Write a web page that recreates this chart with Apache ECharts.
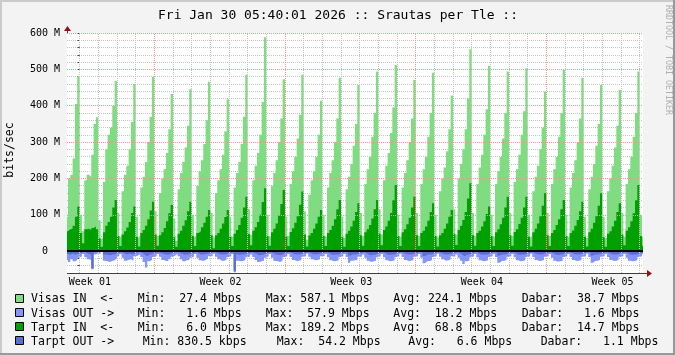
<!DOCTYPE html>
<html><head><meta charset="utf-8">
<script src="https://cdn.jsdelivr.net/npm/echarts@6/dist/echarts.min.js"></script>
<style>html,body{margin:0;padding:0;background:#F3F3F3}#c{width:675px;height:355px}</style>
</head><body><div id="c"></div>
<script>
const titleText = 'Fri Jan 30 05:40:01 2026 :: Srautas per Tle ::';
const yAxisTitle = 'bits/sec';
const watermark = 'RRDTOOL / TOBI OETIKER';
const weekLabels = ['Week 01', 'Week 02', 'Week 03', 'Week 04', 'Week 05'];
const weekLabelPos = [0.55, 7.55, 14.55, 21.55, 28.55];          // days
const dayLines = [0,1,2,3,4,5,6,7,8,9,10,11,12,13,14,15,16,17,18,19,20,21,22,23,24,25,26,27,28,29,30];
const majorDays = [4, 11, 18, 25];
const yMajor = [0, 100, 200, 300, 400, 500, 600];
const xMin = -0.675, xMax = 30.18;
const yMin = -60, yMax = 600;
const sampleStart = -0.75;       // first sample starts 06:00 of day 0
const samplesPerDay = 8;         // 3-hour samples, values in Mbit/s

// Visas IN (light green), one row per day: 00-03,03-06,...,21-24
const visasIn = [
  95,200,210,255,405,482,
  100,55,195,210,205,265,350,368,
  85,35,190,280,320,340,400,468,
  105,40,165,210,235,280,355,460,
  95,38,175,205,245,300,370,480,
  110,42,160,200,225,270,335,432,
  90,28,170,215,245,285,345,445,
  100,40,180,220,250,295,360,466,
  105,38,160,195,225,265,330,418,
  95,40,175,215,245,295,370,485,
  115,45,195,235,270,320,410,588,
  100,40,180,215,250,300,365,473,
  95,42,185,220,260,310,375,485,
  110,32,155,195,220,260,320,414,
  100,40,175,215,250,300,365,477,
  95,36,170,205,240,290,350,457,
  105,42,185,225,260,315,380,494,
  115,46,195,235,270,325,395,512,
  100,40,175,215,250,300,365,471,
  105,42,185,225,260,315,380,491,
  100,38,165,200,230,275,335,428,
  115,46,200,240,280,335,420,555,
  105,42,185,230,265,320,390,509,
  100,40,185,220,260,310,380,494,
  105,42,190,225,265,320,385,503,
  100,38,165,205,235,280,340,439,
  105,42,185,225,260,315,380,498,
  100,40,175,215,250,300,365,477,
  95,36,170,205,240,290,350,457,
  95,36,165,200,235,285,345,443,
  105,40,185,225,260,315,380,494,
  100,40
];
// Tarpt IN (dark green)
const tarptIn = [
  55,60,62,70,95,123,
  50,22,60,62,58,64,68,60,
  35,12,52,70,80,95,120,141,
  42,14,46,55,65,80,105,123,
  40,13,50,58,70,88,112,136,
  46,15,44,52,64,82,104,127,
  38,12,48,56,70,85,110,136,
  42,14,50,55,66,78,95,113,
  44,8,44,50,62,76,94,113,
  39,14,48,58,72,92,120,150,
  47,16,56,66,80,100,135,173,
  42,15,52,62,76,98,130,168,
  40,14,53,63,78,96,128,164,
  46,13,43,50,62,76,95,113,
  42,14,50,58,70,88,115,141,
  38,12,48,56,68,84,108,132,
  44,15,52,60,72,90,115,141,
  48,16,58,68,84,105,140,182,
  42,14,52,60,74,92,120,150,
  44,14,50,56,68,84,108,132,
  42,13,44,50,62,76,95,113,
  48,17,58,70,86,108,145,187,
  44,15,50,56,68,82,102,123,
  42,14,52,60,74,92,120,150,
  44,15,53,60,75,92,120,150,
  40,13,52,62,76,96,125,159,
  44,14,50,58,72,88,115,141,
  42,14,50,57,70,86,110,136,
  40,13,52,62,78,96,125,159,
  38,12,48,55,68,84,108,132,
  46,16,56,66,82,104,140,182,
  42,14
];
// Visas OUT (light blue, drawn below zero)
const visasOut = [
  24,30,22,28,24,18,
  14,8,16,22,24,50,9,6,
  8,2,26,28,30,27,25,20,
  14,8,18,26,24,22,26,14,
  12,8,16,30,45,28,24,16,
  14,8,15,24,26,28,22,15,
  12,7,14,22,28,25,24,18,
  15,8,18,25,27,24,20,14,
  14,7,15,22,26,26,23,16,
  14,8,58,26,28,27,24,17,
  15,9,16,24,30,28,26,18,
  14,8,18,26,28,30,25,16,
  14,8,16,24,27,26,24,15,
  14,7,15,22,25,24,22,14,
  14,8,17,25,28,27,25,16,
  14,8,16,32,26,25,24,15,
  15,9,18,26,30,28,26,17,
  14,8,17,25,28,27,25,16,
  14,7,16,24,27,26,24,15,
  14,8,18,33,28,27,25,16,
  14,7,15,22,26,25,23,14,
  15,9,18,26,35,28,26,17,
  14,8,17,25,28,27,25,16,
  14,8,16,32,27,26,24,15,
  14,8,17,25,28,27,25,16,
  14,7,16,24,27,26,24,15,
  14,8,18,26,29,28,26,16,
  14,8,16,24,27,26,24,15,
  14,7,16,32,27,26,24,15,
  14,8,16,24,27,26,24,15,
  14,8,18,26,28,27,25,16,
  14,8
];
// Tarpt OUT (dark blue, drawn below zero)
const tarptOut = [
  8,10,7,9,8,6,
  4,2,5,8,9,47,3,2,
  2,1,9,10,11,10,9,6,
  4,2,6,9,8,8,9,5,
  3,2,5,10,14,9,8,5,
  4,2,5,8,9,10,7,5,
  3,2,5,8,10,9,8,6,
  5,2,6,9,9,8,7,5,
  4,2,5,8,9,9,8,5,
  4,2,54,9,10,9,8,6,
  5,2,6,8,11,10,9,6,
  4,2,6,9,10,11,9,5,
  4,2,5,8,9,9,8,5,
  4,2,5,8,9,8,7,5,
  4,2,6,9,10,9,9,5,
  4,2,5,12,9,9,8,5,
  5,2,6,9,11,10,9,6,
  4,2,6,9,10,9,9,5,
  4,2,5,8,9,9,8,5,
  4,2,6,13,10,9,9,5,
  4,2,5,8,9,9,8,5,
  5,2,6,9,14,10,9,6,
  4,2,6,9,10,9,9,5,
  4,2,5,12,9,9,8,5,
  4,2,6,9,10,9,9,5,
  4,2,5,8,9,9,8,5,
  4,2,6,9,10,10,9,5,
  4,2,5,8,9,9,8,5,
  4,2,5,12,9,9,8,5,
  4,2,5,8,9,9,8,5,
  4,2,6,9,10,9,9,5,
  4,2
];

const legendNames = ['Visas IN  <-', 'Visas OUT ->', 'Tarpt IN  <-', 'Tarpt OUT ->'];
const legendColors = ['#80DC80', '#8494F7', '#00A000', '#5A70D0'];
const legendMin = ['Min:  27.4 Mbps', 'Min:   1.6 Mbps', 'Min:   6.0 Mbps', 'Min: 830.5 kbps'];
const legendMax = ['Max: 587.1 Mbps', 'Max:  57.9 Mbps', 'Max: 189.2 Mbps', 'Max:  54.2 Mbps'];
const legendAvg = ['Avg: 224.1 Mbps', 'Avg:  18.2 Mbps', 'Avg:  68.8 Mbps', 'Avg:   6.6 Mbps'];
const legendCur = ['Dabar:  38.7 Mbps', 'Dabar:   1.6 Mbps', 'Dabar:  14.7 Mbps', 'Dabar:   1.1 Mbps'];

function toPairs(arr, sign) {
  const out = arr.map((v, i) => [sampleStart + i / samplesPerDay, sign * v]);
  out.push([sampleStart + arr.length / samplesPerDay, sign * arr[arr.length - 1]]);
  return out;
}

const MONO = '"DejaVu Sans Mono", monospace';
const GRID_MINOR = '#C4C4C4';
const GRID_MAJOR = '#EE9999';
const AXIS = '#404040';
const ARROW = '#8E1414';

function areaSeries(arr, sign, color, z) {
  return {
    type: 'line', step: 'end', data: toPairs(arr, sign), symbol: 'none', showSymbol: false,
    lineStyle: { width: 0 }, areaStyle: { color: color, opacity: 1 }, z: z, silent: true, animation: false
  };
}

const gridLinesData = dayLines.map(d => ({
  xAxis: d, lineStyle: { color: majorDays.indexOf(d) >= 0 ? GRID_MAJOR : GRID_MINOR, type: [1, 1], width: 1, opacity: 1 }
})).concat(yMajor.map(v => ({
  yAxis: v, lineStyle: { color: GRID_MAJOR, type: [1, 1], width: 1, opacity: 1 }
})));

const legendGraphics = [];
const rowMid = [299.5, 313.6, 327.7, 341.8];
const fieldX = [[31, 137.7, 265.7, 393.3, 521.7], [31, 137.7, 265.7, 393.3, 521.7], [31, 137.7, 265.7, 393.3, 521.7], [31, 142.7, 276.7, 408.3, 540.7]];
for (let r = 0; r < 4; r++) {
  legendGraphics.push({ type: 'rect', shape: { x: 15.5, y: Math.round(rowMid[r] - 5) - 0.5, width: 8, height: 8 },
    style: { fill: legendColors[r], stroke: '#000', lineWidth: 1 } });
  const texts = [legendNames[r], legendMin[r], legendMax[r], legendAvg[r], legendCur[r]];
  texts.forEach((t, k) => legendGraphics.push({ type: 'text', x: fieldX[r][k], y: rowMid[r],
    style: { text: t, font: '11.5px ' + MONO, fill: '#000', align: 'left', verticalAlign: 'middle' } }));
}

const chart = echarts.init(document.getElementById('c'), null, { renderer: 'canvas' });
chart.setOption({
  animation: false,
  backgroundColor: '#F3F3F3',
  grid: { left: 67, right: 32, top: 33, bottom: 82, show: true, backgroundColor: '#FFFFFF', borderWidth: 0 },
  xAxis: {
    type: 'value', min: xMin, max: xMax,
    axisLine: { show: false }, splitLine: { show: false },
    axisTick: { show: true, customValues: dayLines, length: 2, lineStyle: { color: AXIS } },
    axisLabel: {
      customValues: weekLabelPos, margin: 4, color: '#000', fontFamily: MONO, fontSize: 10,
      formatter: function (v) {
        const i = weekLabelPos.findIndex(p => Math.abs(p - v) < 1e-6);
        return i >= 0 ? weekLabels[i] : '';
      }
    }
  },
  yAxis: {
    type: 'value', min: yMin, max: yMax, interval: 20,
    axisLine: { show: false },
    axisTick: { show: true, length: 2, lineStyle: { color: AXIS } },
    axisLabel: {
      margin: 7, color: '#000', fontFamily: MONO, fontSize: 10,
      formatter: function (v) {
        if (v < 0 || v % 100 !== 0) return '';
        return v === 0 ? '0  ' : (v + ' M');
      }
    },
    splitLine: { show: true, lineStyle: { color: GRID_MINOR, type: [1, 1], width: 1 } }
  },
  series: [
    { type: 'line', data: toPairs(visasIn, 1), symbol: 'none', showSymbol: false, lineStyle: { width: 0, opacity: 0 },
      z: 1, silent: true, animation: false,
      markLine: { silent: true, symbol: ['none', 'none'], label: { show: false }, animation: false, data: gridLinesData } },
    areaSeries(visasIn, 1, legendColors[0], 2),
    areaSeries(tarptIn, 1, legendColors[2], 3),
    areaSeries(visasOut, -1, legendColors[1], 2),
    areaSeries(tarptOut, -1, legendColors[3], 3),
    { type: 'line', data: toPairs(visasIn, 1), symbol: 'none', showSymbol: false, lineStyle: { width: 0, opacity: 0 },
      z: 10, silent: true, animation: false,
      markLine: { silent: true, symbol: ['none', 'none'], label: { show: false }, animation: false, data: [
        { yAxis: 0, lineStyle: { color: '#000', type: 'solid', width: 2, opacity: 1 } },
        { xAxis: xMin, lineStyle: { color: AXIS, type: 'solid', width: 1, opacity: 1 } },
        { yAxis: yMin, lineStyle: { color: AXIS, type: 'solid', width: 1, opacity: 1 } }
      ] } }
  ],
  graphic: [
    { type: 'rect', shape: { x: 0, y: 0, width: 675, height: 2 }, style: { fill: '#CBCBCB' }, z: -1 },
    { type: 'rect', shape: { x: 0, y: 0, width: 2, height: 355 }, style: { fill: '#CBCBCB' }, z: -1 },
    { type: 'rect', shape: { x: 0, y: 353, width: 675, height: 2 }, style: { fill: '#999999' }, z: -1 },
    { type: 'rect', shape: { x: 673, y: 0, width: 2, height: 355 }, style: { fill: '#999999' }, z: -1 },
    { type: 'text', x: 338, y: 15.5, style: { text: titleText, font: '13px ' + MONO, fill: '#000', align: 'center', verticalAlign: 'middle' } },
    { type: 'text', x: 10, y: 150, rotation: Math.PI / 2, style: { text: yAxisTitle, font: '11.5px ' + MONO, fill: '#000', align: 'center', verticalAlign: 'middle' } },
    { type: 'text', x: 668, y: 60, rotation: -Math.PI / 2, style: { text: watermark, font: '8.3px ' + MONO, fill: '#AFAFAF', align: 'center', verticalAlign: 'middle' } },
    { type: 'line', shape: { x1: 67.5, y1: 33, x2: 67.5, y2: 30 }, style: { stroke: AXIS, lineWidth: 1 } },
    { type: 'polygon', shape: { points: [[64, 31], [71, 31], [67.5, 26]] }, style: { fill: ARROW } },
    { type: 'line', shape: { x1: 643, y1: 273.5, x2: 647, y2: 273.5 }, style: { stroke: AXIS, lineWidth: 1 } },
    { type: 'polygon', shape: { points: [[647, 270], [647, 277], [652, 273.5]] }, style: { fill: ARROW } }
  ].concat(legendGraphics)
});
</script></body></html>
